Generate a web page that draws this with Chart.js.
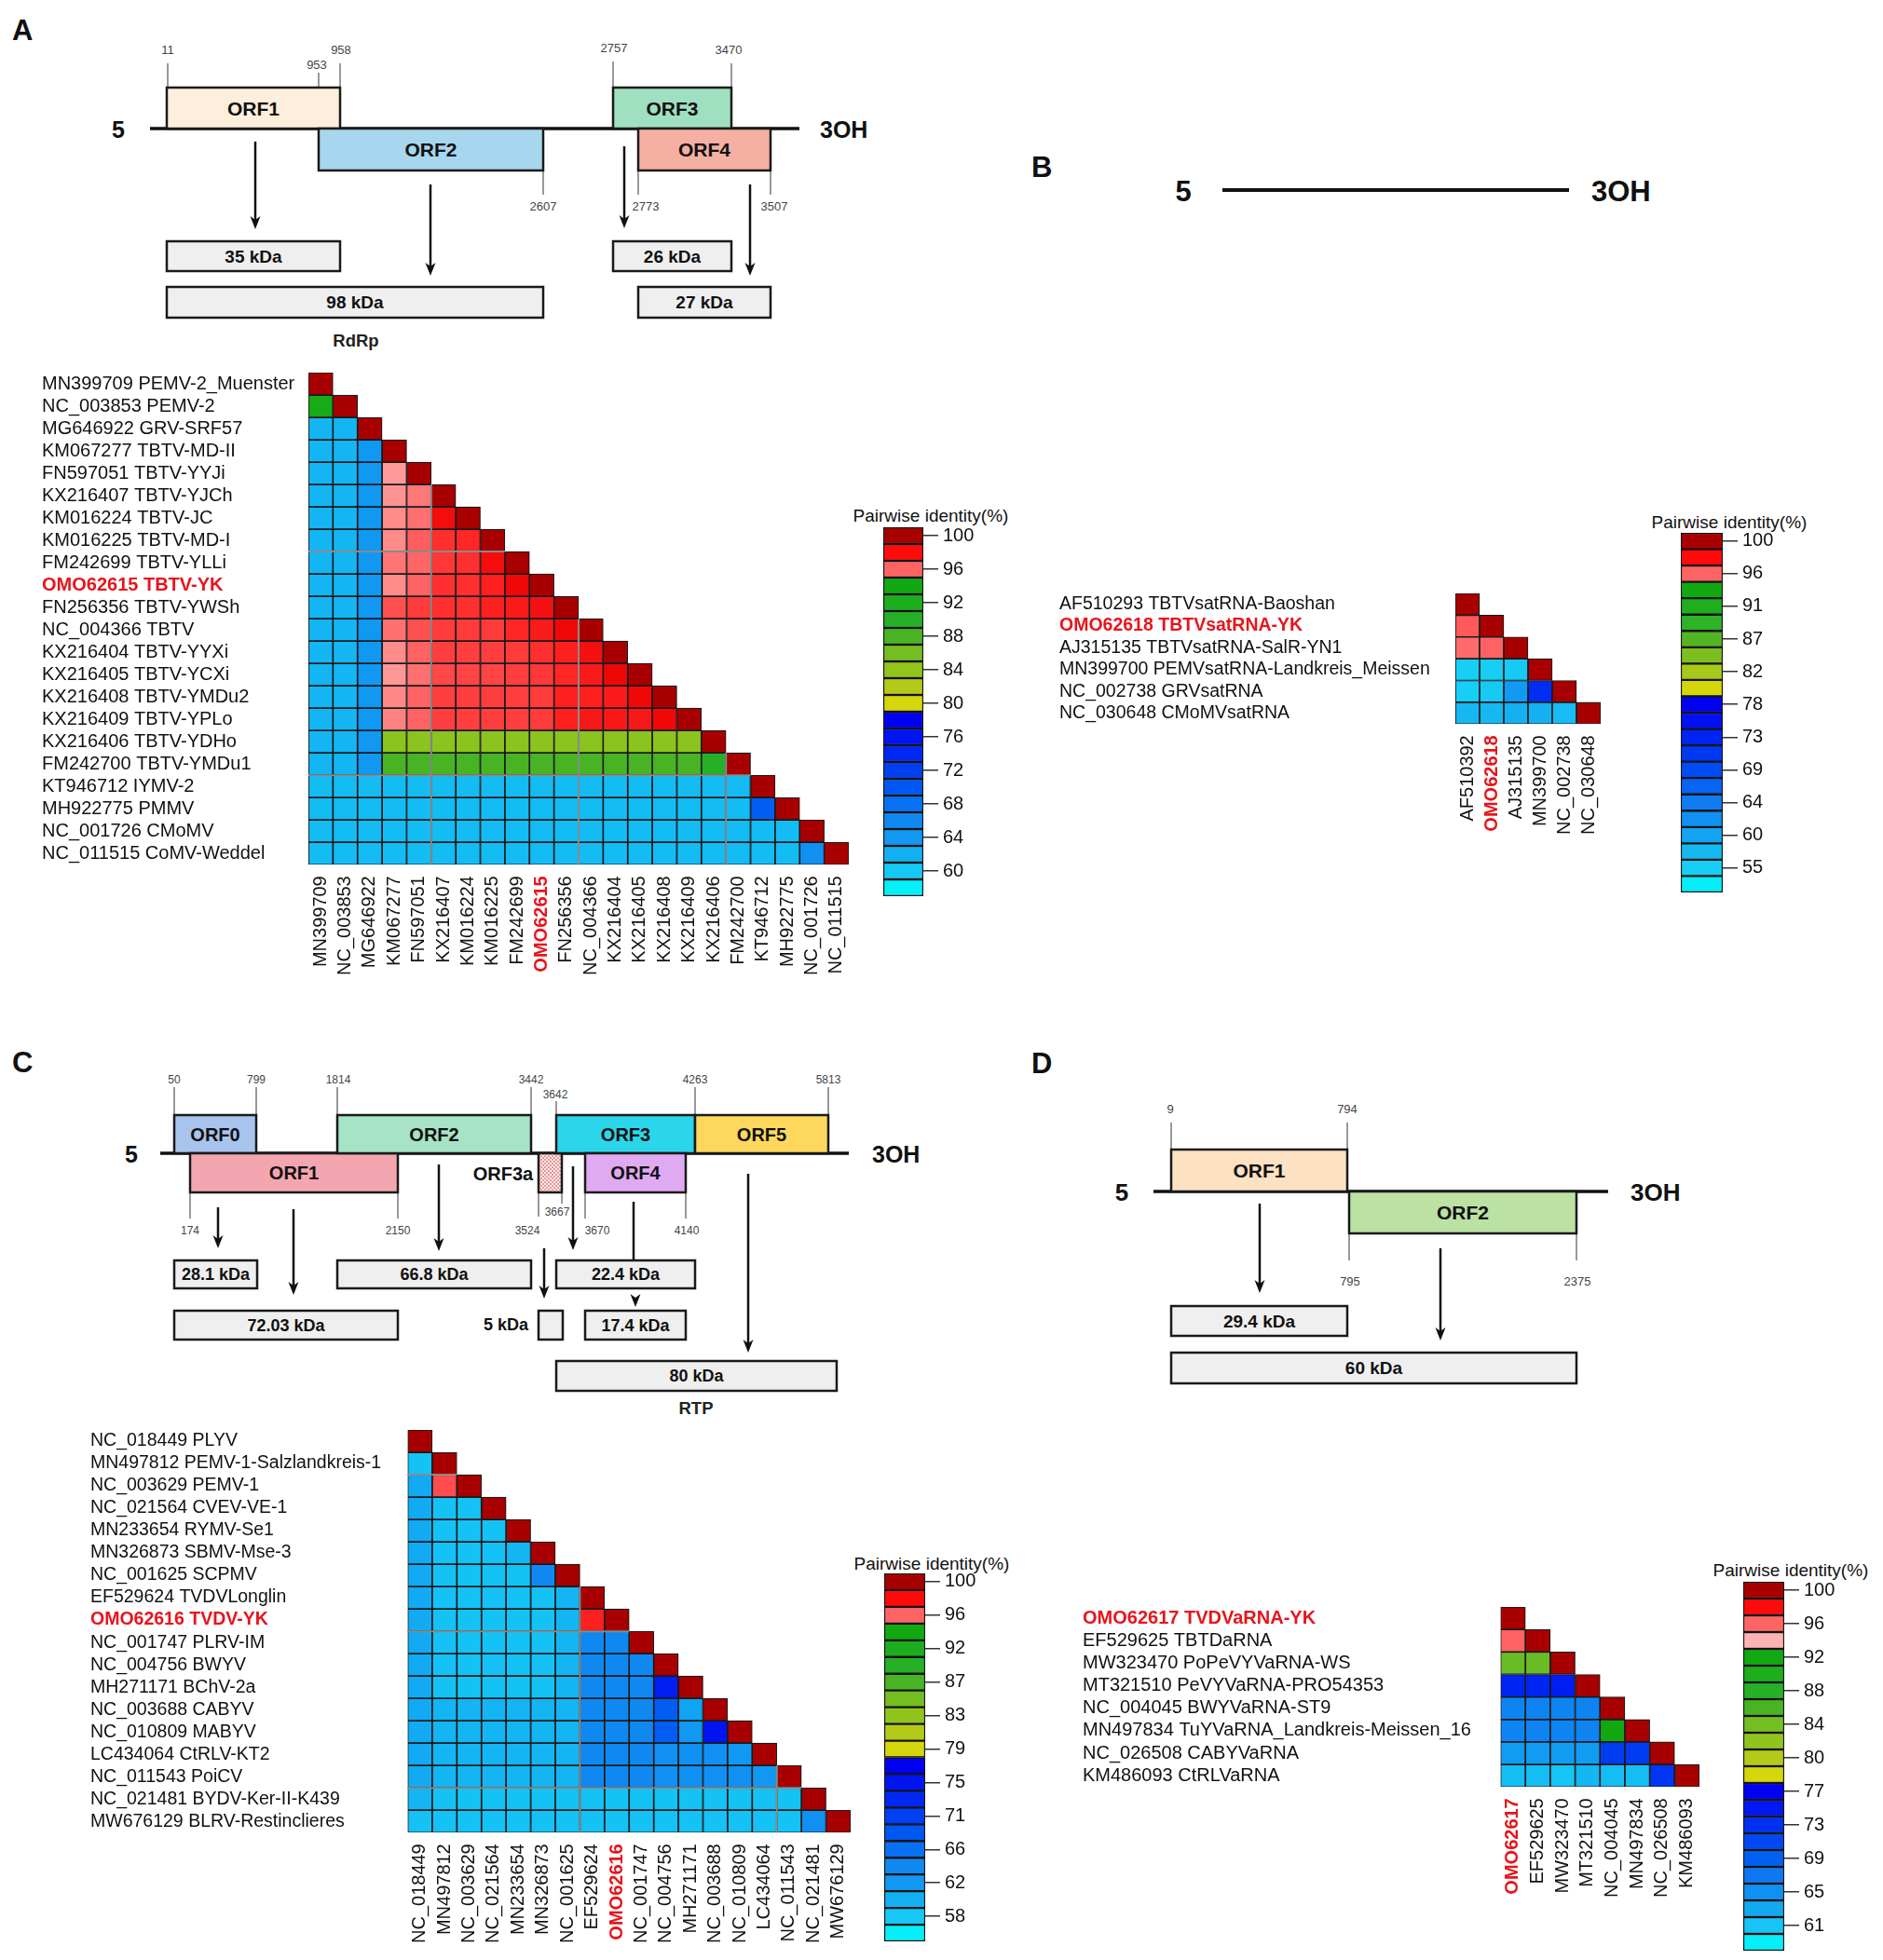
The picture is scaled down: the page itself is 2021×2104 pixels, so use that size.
<!DOCTYPE html>
<html><head><meta charset="utf-8">
<script src="https://cdn.jsdelivr.net/npm/chart.js@4.4.1/dist/chart.umd.min.js"></script>
<style>
html,body{margin:0;padding:0;background:#fff;}
#root{position:relative;width:2021px;height:2104px;overflow:hidden;background:#fff;}
.wrap{position:absolute;left:0;top:0;}
.wrap canvas{display:block;}
svg text{font-family:'Liberation Sans',Arial,Helvetica,sans-serif;}
</style></head>
<body><div id="root"><svg id="dia" width="2021" height="2104" style="position:absolute;left:0;top:0"></svg></div>
<script>
// ===================== DATA =====================
// Panel A genome map
const genomeA_orfs = ['ORF1','ORF2','ORF3','ORF4'];
const genomeA_sites = ['11','958','953','2607','2757','3470','2773','3507'];
const genomeA_products = ['35 kDa','98 kDa','26 kDa','27 kDa'];
const genomeA_note = 'RdRp';
// Panel C genome map
const genomeC_orfs = ['ORF0','ORF1','ORF2','ORF3a','ORF3','ORF4','ORF5'];
const genomeC_sites = ['50','799','1814','3442','3642','4263','5813','174','2150','3524','3667','3670','4140'];
const genomeC_products = ['28.1 kDa','72.03 kDa','66.8 kDa','5 kDa','22.4 kDa','17.4 kDa','80 kDa'];
const genomeC_note = 'RTP';
// Panel D genome map
const genomeD_orfs = ['ORF1','ORF2'];
const genomeD_sites = ['9','794','795','2375'];
const genomeD_products = ['29.4 kDa','60 kDa'];
const endLabels = ['5','3OH'];
const legendTitle = 'Pairwise identity(%)';

// Panel A heatmap
const rowsA = ['MN399709 PEMV-2_Muenster','NC_003853 PEMV-2','MG646922 GRV-SRF57','KM067277 TBTV-MD-II','FN597051 TBTV-YYJi','KX216407 TBTV-YJCh','KM016224 TBTV-JC','KM016225 TBTV-MD-I','FM242699 TBTV-YLLi','OMO62615 TBTV-YK','FN256356 TBTV-YWSh','NC_004366 TBTV','KX216404 TBTV-YYXi','KX216405 TBTV-YCXi','KX216408 TBTV-YMDu2','KX216409 TBTV-YPLo','KX216406 TBTV-YDHo','FM242700 TBTV-YMDu1','KT946712 IYMV-2','MH922775 PMMV','NC_001726 CMoMV','NC_011515 CoMV-Weddel'];
const colsA = ['MN399709','NC_003853','MG646922','KM067277','FN597051','KX216407','KM016224','KM016225','FM242699','OMO62615','FN256356','NC_004366','KX216404','KX216405','KX216408','KX216409','KX216406','FM242700','KT946712','MH922775','NC_001726','NC_011515'];
const valsA = [
[100],
[93,100],
[61.5,61.5,100],
[61.5,61.5,64,100],
[61.5,61.5,64,94.7,100],
[61.5,61.5,64,94.9,95.5,100],
[61.5,61.5,64,95.1,95.7,98.3,100],
[61.5,61.5,64,95.1,96.1,97.2,97.4,100],
[61.5,61.5,64,95.6,95.9,97.0,97.2,98.3,100],
[61.5,61.5,64,95.1,96.0,97.2,97.2,97.6,98.5,100],
[61.5,61.5,64,96.4,96.9,97.2,97.2,97.6,97.8,98.2,100],
[61.5,61.5,64,95.7,96.4,96.9,96.9,96.9,97.4,97.8,98.5,100],
[61.5,61.5,64,95.1,96.0,96.8,96.8,96.8,96.9,97.2,97.6,98.2,100],
[61.5,61.5,64,94.8,95.7,96.6,96.7,96.7,96.8,97.0,97.4,97.8,98.6,100],
[61.5,61.5,64,95.2,96.0,96.8,96.8,96.8,96.8,96.9,97.6,97.6,97.8,98.5,100],
[61.5,61.5,64,95.3,96.0,96.8,96.8,96.8,96.8,96.9,97.6,97.9,97.9,97.9,98.5,100],
[61.5,61.5,64,84.5,84.5,84.5,84.5,84.5,84.5,84.5,84.5,84.5,84.5,84.5,84.5,84.5,100],
[61.5,61.5,64,88,88,88,88,88,88,88,88,88,88,88,88,88,90,100],
[61,61,61,61,61,61,61,61,61,61,61,61,61,61,61,61,61,61,100],
[61,61,61,61,61,61,61,61,61,61,61,61,61,61,61,61,61,61,69.5,100],
[61,61,61,61,61,61,61,61,61,61,61,61,61,61,61,61,61,61,61,61,100],
[61,61,61,61,61,61,61,61,61,61,61,61,61,61,61,61,61,61,61,61,65,100]
];
const segValsA = [100,98,96,94,92,90,88,86,84,82,80,78,76,74,72,70,68,66,64,62,60,58];
const ticksA = ['100','96','92','88','84','80','76','72','68','64','60'];

// Panel B heatmap
const rowsB = ['AF510293 TBTVsatRNA-Baoshan','OMO62618 TBTVsatRNA-YK','AJ315135 TBTVsatRNA-SalR-YN1','MN399700 PEMVsatRNA-Landkreis_Meissen','NC_002738 GRVsatRNA','NC_030648 CMoMVsatRNA'];
const colsB = ['AF510392','OMO62618','AJ315135','MN399700','NC_002738','NC_030648'];
const valsB = [
[100],
[96.2,100],
[95.8,96,100],
[55,55,55.5,100],
[55,55.5,61,72,100],
[57.5,57.5,58.5,58.5,57,100]
];
const segValsB = [100,98,96,93.5,91,89,87,84.5,82,80,78,75.5,73,71,69,66.5,64,62,60,57.5,55,53];
const ticksB = ['100','96','91','87','82','78','73','69','64','60','55'];

// Panel C heatmap
const rowsC = ['NC_018449 PLYV','MN497812 PEMV-1-Salzlandkreis-1','NC_003629 PEMV-1','NC_021564 CVEV-VE-1','MN233654 RYMV-Se1','MN326873 SBMV-Mse-3','NC_001625 SCPMV','EF529624 TVDVLonglin','OMO62616 TVDV-YK','NC_001747 PLRV-IM','NC_004756 BWYV','MH271171 BChV-2a','NC_003688 CABYV','NC_010809 MABYV','LC434064 CtRLV-KT2','NC_011543 PoiCV','NC_021481 BYDV-Ker-II-K439','MW676129 BLRV-Restinclieres'];
const colsC = ['NC_018449','MN497812','NC_003629','NC_021564','MN233654','MN326873','NC_001625','EF529624','OMO62616','NC_001747','NC_004756','MH271171','NC_003688','NC_010809','LC434064','NC_011543','NC_021481','MW676129'];
const valsC = [
[100],
[58.5,100],
[60.5,96.5,100],
[60.5,58.5,58.5,100],
[60.5,58.5,58.5,58.5,100],
[60.5,58.5,58.5,58.5,59.5,100],
[60.5,58.5,58.5,58.5,58.5,64,100],
[60.5,58.5,58.5,58.5,58.5,58.5,59.5,100],
[60.5,58.5,58.5,58.5,58.5,58.5,59.5,97.6,100],
[60.5,58.5,58.5,58.5,58.5,58.5,59.5,64,64,100],
[60.5,58.5,58.5,58.5,58.5,58.5,59.5,64,64,64,100],
[60.5,58.5,58.5,58.5,58.5,58.5,59.5,64,64,64,74,100],
[60.5,59.5,59.5,59.5,59.5,59.5,59.5,64,64,64,68,61,100],
[60.5,59.5,59.5,59.5,59.5,59.5,59.5,64,64,64,68,62,75,100],
[60.5,59.5,59.5,59.5,59.5,59.5,59.5,64,64,64,63,63,63,62,100],
[60.5,59.5,59.5,59.5,59.5,59.5,59.5,64,64,64,63,63,63,63,62,100],
[59.5,58.5,58.5,58.5,58.5,58.5,58.5,58.5,58.5,58.5,58.5,58.5,58.5,58.5,58.5,58.5,100],
[58.5,58.5,58.5,58.5,58.5,58.5,58.5,58.5,58.5,58.5,58.5,58.5,58.5,58.5,58.5,58.5,63,100]
];
const segValsC = [100,98,96,94,92,89.5,87,85,83,81,79,77,75,73,71,68.5,66,64,62,60,58,56];
const ticksC = ['100','96','92','87','83','79','75','71','66','62','58'];

// Panel D heatmap
const rowsD = ['OMO62617 TVDVaRNA-YK','EF529625 TBTDaRNA','MW323470 PoPeVYVaRNA-WS','MT321510 PeVYVaRNA-PRO54353','NC_004045 BWYVaRNA-ST9','MN497834 TuYVaRNA_Landkreis-Meissen_16','NC_026508 CABYVaRNA','KM486093 CtRLVaRNA'];
const colsD = ['OMO62617','EF529625','MW323470','MT321510','NC_004045','MN497834','NC_026508','KM486093'];
const valsD = [
[100],
[96,100],
[84.5,84.5,100],
[74,74,74.5,100],
[66,66,66,66,100],
[66,66,66,66,92,100],
[64,64,64,64,72,72,100],
[61.5,61.5,61,62,61.5,61.5,72.5,100]
];
const segValsD = [100,98,96,94,92,90,88,86,84,82,80,78.5,77,75,73,71,69,67,65,63,61,59];
const ticksD = ['100','96','92','88','84','80','77','73','69','65','61'];

// ===================== STYLE =====================
const FONT = "'Liberation Sans', Arial, Helvetica, sans-serif";
const HL = '#E8141C';
const DK='#A80000', RD='#FF0A0A', LR='#FF6464', PK='#FFB3B3', YE='#D6D60C';
const G7 = ['#12A812','#1CAE1C','#26B026','#48B424','#74BE22','#92C41E','#B4CA18'];
const G6 = ['#12A812','#1EAE1E','#2EB226','#52B624','#7CBE20','#A8C81A'];
const BL11 = ['#0000F2','#0014F2','#0028F2','#0040F2','#0058F2','#0870F2','#1088F2','#1098F2','#12B0F2','#16C8F6','#06EEF8'];
const BL12 = ['#0000F2','#0010F2','#0024F2','#0038F2','#004CF2','#0864F2','#107CF2','#1090F2','#12A4F2','#16B8F2','#16CEF6','#06EEF8'];
const BL10 = ['#0000F2','#0018F2','#0030F2','#0048F2','#0060F2','#0C78F2','#1090F2','#12A8F2','#16C4F6','#06EEF8'];
const segColA = [DK,RD,LR,...G7,YE,...BL11];
const segColB = [DK,RD,LR,...G6,YE,...BL12];
const segColC = [DK,RD,LR,...G7,YE,...BL11];
const segColD = [DK,RD,LR,PK,...G7,YE,...BL10];
const RED_STOPS = [[100,'#A80000'],[99.3,'#D40000'],[98.5,'#F00808'],[97.5,'#FF2222'],[96.5,'#FF4C4C'],[96,'#FF6262'],[95,'#FF9090'],[94,'#FFB3B3']];

function hex2rgb(h){return [parseInt(h.slice(1,3),16),parseInt(h.slice(3,5),16),parseInt(h.slice(5,7),16)];}
function mix(a,b,t){const A=hex2rgb(a),B=hex2rgb(b);return 'rgb('+A.map((v,i)=>Math.round(v+(B[i]-v)*t)).join(',')+')';}
function interpStops(st,v){
  if(v>=st[0][0]) return st[0][1];
  for(let k=0;k<st.length-1;k++){
    if(v<=st[k][0]&&v>=st[k+1][0]){const t=(st[k][0]-v)/(st[k][0]-st[k+1][0]);return mix(st[k][1],st[k+1][1],t);}
  }
  return st[st.length-1][1];
}
function makeColorFn(segVals,segCols,first){
  const segStops=segVals.slice(first).map((v,k)=>[v,segCols[first+k]]);
  return v => v>segVals[first] ? interpStops(RED_STOPS,v) : interpStops(segStops,v);
}

// ===================== DIAGRAMS (SVG) =====================
const NS='http://www.w3.org/2000/svg';
const svg=document.getElementById('dia');
function el(tag,attrs,txt,parent){const e=document.createElementNS(NS,tag);for(const k in attrs)e.setAttribute(k,attrs[k]);if(txt!==undefined)e.textContent=txt;(parent||svg).appendChild(e);return e;}
const defs=el('defs',{});
const pat=el('pattern',{id:'dots',width:4,height:4,patternUnits:'userSpaceOnUse'},undefined,defs);
el('rect',{x:0,y:0,width:4,height:4,fill:'#FCEDED'},undefined,pat);
el('circle',{cx:1,cy:1,r:0.9,fill:'#E07070'},undefined,pat);
el('circle',{cx:3,cy:3,r:0.9,fill:'#E07070'},undefined,pat);

function line(x1,y1,x2,y2,w,c){el('line',{x1,y1,x2,y2,stroke:c||'#111','stroke-width':w||2});}
function box(b,fill,w){el('rect',{x:b[0],y:b[1],width:b[2]-b[0],height:b[3]-b[1],fill,stroke:'#1a1a1a','stroke-width':w||2.5});}
function txt(x,y,s,size,weight,anchor,fill){el('text',{x,y,'font-size':size,'font-weight':weight||'normal','text-anchor':anchor||'middle',fill:fill||'#111'},s);}
function head(x,y2){el('polygon',{points:`${x-5.5},${y2-14} ${x},${y2-10} ${x+5.5},${y2-14} ${x},${y2}`,fill:'#111'});}
function arrow(a){line(a[0],a[1],a[0],a[2]-6,2.5);head(a[0],a[2]);}

function drawGenome(spec){
  line(spec.line[0],spec.line[1],spec.line[2],spec.line[3],spec.lw||3.5,'#111');
  txt(spec.five[0],spec.five[1],endLabels[0],spec.endSize,'bold','middle');
  txt(spec.three[0],spec.three[1],endLabels[1],spec.endSize,'bold','start');
  (spec.sites||[]).forEach((s,i)=>{line(s[0],s[1],s[0],s[2],1.2,'#555');txt(s[3],s[4],spec.siteLabels[i],spec.siteSize||13,'normal','middle','#444');});
  (spec.boxes||[]).forEach((b,i)=>{box(b,b[4]);const lab=spec.orfLabels[i];
    if(b[5]) txt(b[5][0],b[5][1],lab,spec.orfSize,'bold','middle');
    else txt((b[0]+b[2])/2,(b[1]+b[3])/2+spec.orfSize*0.36,lab,spec.orfSize,'bold','middle');});
  (spec.arrows||[]).forEach(arrow);
  (spec.prods||[]).forEach((p,i)=>{box(p,'#EFEFEF',2.5);const lab=spec.prodLabels[i];
    if(p[4]) txt(p[4][0],p[4][1],lab,spec.prodSize,'bold','middle');
    else txt((p[0]+p[2])/2,(p[1]+p[3])/2+spec.prodSize*0.36,lab,spec.prodSize,'bold','middle');});
  if(spec.note) txt(spec.note[0],spec.note[1],spec.noteLabel,18.5,'bold','middle','#222');
}

// Panel letters
txt(13,43,'A',31,'bold','start');
txt(1107,190,'B',31,'bold','start');
txt(13,1151,'C',31,'bold','start');
txt(1107,1152,'D',31,'bold','start');

drawGenome({line:[161,138,858,138],five:[127,148],three:[880,148],endSize:25,
  orfLabels:genomeA_orfs,orfSize:21,
  boxes:[[179,94,365,138,'#FDEFDC'],[342,138,583,183,'#A6D7EF'],[658,94,785,138,'#9FE0C1'],[685,138,827,183,'#F6AFA3']],
  siteLabels:genomeA_sites,
  sites:[[180,68,94,180,58],[365,68,94,366,58],[342,78,138,340,74],[583,183,209,583,226],[658,66,94,659,56],[785,68,94,782,58],[685,183,209,693,226],[827,183,209,831,226]],
  arrows:[[274,152,246],[462,198,296],[670,157,245],[805,198,296]],
  prodLabels:genomeA_products,prodSize:19,
  prods:[[179,259,365,291],[179,308,583,341],[658,259,785,291],[685,308,827,341]],
  note:[382,372],noteLabel:genomeA_note});

// Panel B genome line
drawGenome({line:[1312,204,1684,204],lw:4,five:[1270,216],three:[1708,216],endSize:31});

// Panel C genome map
drawGenome({line:[172,1238,911,1238],five:[141,1248],three:[936,1248],endSize:25,
  orfLabels:genomeC_orfs,orfSize:20,
  boxes:[[187,1197,275,1238,'#A8C4EC'],[204,1238,427,1280,'#F3A6B0'],[362,1197,570,1238,'#A6E3C7'],[578,1238,603,1280,'url(#dots)',[540,1267]],[597,1197,746,1238,'#2BD6EA'],[628,1238,736,1280,'#E0AAF2'],[746,1197,889,1238,'#FDD85C']],
  siteLabels:genomeC_sites,siteSize:12,
  sites:[[187,1167,1197,187,1163],[275,1167,1197,275,1163],[362,1167,1197,363,1163],[570,1167,1197,570,1163],[597,1182,1197,596,1179],[746,1167,1197,746,1163],[889,1167,1197,889,1163],
         [204,1280,1308,204,1325],[427,1280,1308,427,1325],[578,1280,1306,566,1325],[603,1280,1292,598,1305],[628,1280,1308,641,1325],[736,1280,1308,737,1325]],
  arrows:[[234,1296,1340],[315,1298,1390],[471,1250,1343],[584,1340,1394],[615,1252,1342],[803,1260,1452]],
  prodLabels:genomeC_products,prodSize:18,
  prods:[[187,1353,276,1383],[187,1407,427,1438],[362,1353,570,1383],[578,1407,604,1438,[543,1428]],[597,1353,746,1383],[628,1407,736,1438],[597,1461,898,1493]],
  note:[747,1518],noteLabel:genomeC_note});
line(680,1290,680,1352,2.5);
head(682,1403);

// Panel D genome map
drawGenome({line:[1238,1279,1726,1279],five:[1204,1289],three:[1750,1289],endSize:26,
  orfLabels:genomeD_orfs,orfSize:21,
  boxes:[[1257,1234,1446,1279,'#FCE1C2'],[1448,1279,1692,1324,'#BBE1A3']],
  siteLabels:genomeD_sites,siteSize:13,
  sites:[[1257,1205,1234,1256,1195],[1446,1205,1234,1446,1195],[1448,1324,1353,1449,1380],[1692,1324,1353,1693,1380]],
  arrows:[[1352,1292,1388],[1546,1340,1439]],
  prodLabels:genomeD_products,prodSize:19,
  prods:[[1257,1402,1446,1434],[1257,1452,1692,1485]]});

// Legend titles
txt(999,560,legendTitle,19,'normal','middle','#111');
txt(1856,567,legendTitle,19,'normal','middle','#111');
txt(1000,1685,legendTitle,19,'normal','middle','#111');
txt(1922,1692,legendTitle,19,'normal','middle','#111');

// ===================== CHARTS =====================
Chart.defaults.font.family = FONT;
Chart.defaults.color = '#111';
const root=document.getElementById('root');

function fit(chart,wrap,t){
  for(let k=0;k<3;k++){
    const ca=chart.chartArea;
    const L=ca.left,T=ca.top,R=chart.width-ca.right,B=chart.height-ca.bottom;
    chart.resize(Math.round(t.w+L+R),Math.round(t.h+T+B));
    const ca2=chart.chartArea;
    wrap.style.left=(t.l-ca2.left)+'px';
    wrap.style.top=(t.t-ca2.top)+'px';
  }
}

// gray separator lines along cell borders (style only)
const sepPlugin={id:'sep',afterDatasetsDraw(chart,args,opts){
  if(!opts||!opts.h) return;
  const {ctx,scales:{x,y}}=chart;const N=chart.data.labels.length;
  const cw=x.getPixelForValue(1)-x.getPixelForValue(0);
  ctx.save();ctx.strokeStyle='#8a8a8a';ctx.lineWidth=2;
  opts.h.forEach(r=>{const yy=y.getPixelForValue(r);ctx.beginPath();ctx.moveTo(x.getPixelForValue(0)-cw/2,yy);ctx.lineTo(x.getPixelForValue(r-1)+cw/2,yy);ctx.stroke();});
  opts.v.forEach(c=>{const xx=x.getPixelForValue(c)-cw/2;ctx.beginPath();ctx.moveTo(xx,y.getPixelForValue(c));ctx.lineTo(xx,y.getPixelForValue(N));ctx.stroke();});
  ctx.restore();
}};

function heatmap(o){
  const wrap=document.createElement('div');wrap.className='wrap';root.appendChild(wrap);
  const cv=document.createElement('canvas');wrap.appendChild(cv);
  const N=o.rows.length;
  const yW=o.t.l-o.labelX;
  cv.width=Math.ceil(o.t.w+yW+60);cv.height=Math.ceil(o.t.h+200);
  const datasets=o.rows.map((r,i)=>({
    data:o.cols.map((c,j)=>j<=i?[i,i+1]:null),
    backgroundColor:o.cols.map((c,j)=>j<=i?o.colorFn(o.vals[i][j]):'rgba(0,0,0,0)'),
    borderColor:'#1a1a1a',borderWidth:1.2,borderSkipped:false,
    barPercentage:1,categoryPercentage:1,grouped:false
  }));
  const chart=new Chart(cv,{type:'bar',data:{labels:o.cols,datasets},plugins:[sepPlugin],
    options:{responsive:false,maintainAspectRatio:false,animation:false,devicePixelRatio:1,
      layout:{padding:{top:20,right:30,left:0,bottom:0}},
      plugins:{legend:{display:false},tooltip:{enabled:false},title:{display:false},sep:o.sep||{}},
      scales:{
        x:{type:'category',offset:true,grid:{display:false,drawTicks:false},border:{display:false},
           ticks:{autoSkip:false,maxRotation:90,minRotation:90,padding:12,
             color:c=>c.index===o.hl?HL:'#111',
             font:c=>({size:20,family:FONT,weight:c.index===o.hl?'bold':'normal'})}},
        y:{type:'linear',min:0,max:N,reverse:true,grid:{display:false,drawTicks:false},border:{display:false},
           afterBuildTicks:s=>{s.ticks=o.rows.map((r,i)=>({value:i+0.5}));},
           afterFit:s=>{s.width=yW;},
           ticks:{autoSkip:false,crossAlign:'far',padding:0,
             callback:(v,i)=>o.rows[i],
             color:c=>c.index===o.hl?HL:'#111',
             font:c=>({size:o.fs,family:FONT,weight:c.index===o.hl?'bold':'normal'})}}
      }}});
  fit(chart,wrap,o.t);
  return chart;
}

function colorbar(o){
  const wrap=document.createElement('div');wrap.className='wrap';root.appendChild(wrap);
  const cv=document.createElement('canvas');wrap.appendChild(cv);
  cv.width=o.t.w+90;cv.height=o.t.h+40;
  const chart=new Chart(cv,{type:'bar',
    data:{labels:o.segVals.map(String),datasets:[{data:o.segVals.map(()=>1),backgroundColor:o.segCols,
      borderColor:'#141414',borderWidth:1.5,borderSkipped:false,barPercentage:1,categoryPercentage:1}]},
    options:{indexAxis:'y',responsive:false,maintainAspectRatio:false,animation:false,devicePixelRatio:1,
      layout:{padding:{top:14,bottom:14,left:0,right:4}},
      plugins:{legend:{display:false},tooltip:{enabled:false}},
      scales:{
        x:{display:false,min:0,max:1},
        y:{position:'right',offset:true,border:{display:false},
           afterFit:s=>{s.width=66;},
           grid:{offset:false,drawOnChartArea:false,tickLength:16,lineWidth:1.5,color:c=>c.index%2===0?'#333':'rgba(0,0,0,0)'},
           ticks:{autoSkip:false,padding:5,font:{size:20,family:FONT},color:'#111',
             callback:(v,i)=>i%2===0?o.ticks[i/2]:''}}
      }}});
  fit(chart,wrap,o.t);
  return chart;
}

heatmap({rows:rowsA,cols:colsA,vals:valsA,hl:9,fs:20,labelX:45,t:{l:331,t:400,w:580,h:528},colorFn:makeColorFn(segValsA,segColA,3),sep:{h:[8,18],v:[5,11,17]}});
heatmap({rows:rowsB,cols:colsB,vals:valsB,hl:1,fs:19.5,labelX:1137,t:{l:1562,t:636.5,w:156,h:140},colorFn:makeColorFn(segValsB,segColB,3)});
heatmap({rows:rowsC,cols:colsC,vals:valsC,hl:8,fs:19.5,labelX:97,t:{l:437.5,t:1535,w:475,h:432},colorFn:makeColorFn(segValsC,segColC,3),sep:{h:[2,9,16],v:[7,15]}});
heatmap({rows:rowsD,cols:colsD,vals:valsD,hl:0,fs:20,labelX:1162,t:{l:1610.5,t:1724.5,w:213,h:193.5},colorFn:makeColorFn(segValsD,segColD,4)});

colorbar({segVals:segValsA,segCols:segColA,ticks:ticksA,t:{l:948,t:566,w:43,h:396}});
colorbar({segVals:segValsB,segCols:segColB,ticks:ticksB,t:{l:1804,t:572,w:45,h:386}});
colorbar({segVals:segValsC,segCols:segColC,ticks:ticksC,t:{l:949,t:1689,w:44,h:395}});
colorbar({segVals:segValsD,segCols:segColD,ticks:ticksD,t:{l:1871,t:1698,w:44,h:396}});
</script></body></html>
